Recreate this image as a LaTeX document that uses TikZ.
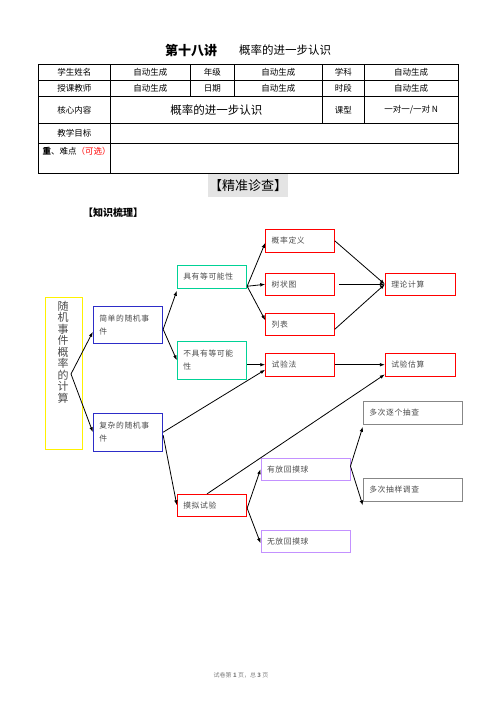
\documentclass[tikz,border=0pt]{standalone}
\usepackage{fontspec}
\setmainfont{Noto Sans CJK SC}
\newfontfamily\boxfont[LetterSpace=8]{Noto Sans CJK SC}
\usetikzlibrary{arrows.meta, positioning}
\definecolor{evtblue}{RGB}{45,45,200}
\definecolor{condgreen}{RGB}{0,210,150}
\definecolor{ballpurple}{RGB}{195,145,255}
\definecolor{checkgray}{RGB}{135,135,135}
\definecolor{txtgray}{RGB}{75,75,75}
\definecolor{headgray}{RGB}{228,228,228}
\tikzset{
  kbox/.style={draw, line width=0.9pt, inner xsep=6pt, inner ysep=0pt, align=left,
    font=\boxfont\fontsize{7.8}{12.6}\selectfont, text=txtgray},
  evt/.style={kbox, draw=evtblue, text width=57.4pt, minimum height=37pt},
  cond/.style={kbox, draw=condgreen, text width=57.4pt},
  meth/.style={kbox, draw=red, text width=56.6pt, minimum height=22.5pt},
  res/.style={kbox, draw=red, text width=58.4pt, minimum height=22.5pt},
  ball/.style={kbox, draw=ballpurple, text width=77pt, minimum height=22pt},
  chk/.style={kbox, draw=checkgray, text width=87pt, minimum height=22.6pt},
  cell/.style={font=\fontsize{8.5}{8.5}\selectfont},
  link/.style={line width=0.8pt, -{Latex[length=5pt,width=3.6pt]}}}

\begin{document}
\begin{tikzpicture}[x=1pt,y=-1pt]
\useasboundingbox (0,0) rectangle (496,702);
% title
\node[font=\bfseries\fontsize{13}{13}\selectfont] (lecture) at (191,50) {第十八讲};
\node[font=\fontsize{11.5}{11.5}\selectfont] (topic) at (285,50) {概率的进一步认识};
% table
\draw[line width=0.9pt] (38.3,64.3) rectangle (458,173.3);
\foreach \y in {80.7,96.7,123.3,143.3}
  \draw[line width=0.9pt] (38.3,\y) -- (458,\y);
\draw[line width=0.9pt] (110.3,64.3) -- (110.3,173.3);
\foreach \x in {190.3,234.3}
  \draw[line width=0.9pt] (\x,64.3) -- (\x,96.7);
\foreach \x in {322.3,364.3}
  \draw[line width=0.9pt] (\x,64.3) -- (\x,123.3);
\foreach \t [count=\i] in {学生姓名,自动生成,年级,自动生成,学科,自动生成}
  \node[cell] (ra\i) at ({\i==1 ? 74.3 : (\i==2 ? 150.3 : (\i==3 ? 212.3 : (\i==4 ? 278.3 : (\i==5 ? 343.3 : 411.2))))},72.5) {\t};
\foreach \t [count=\i] in {授课教师,自动生成,日期,自动生成,时段,自动生成}
  \node[cell] (rb\i) at ({\i==1 ? 74.3 : (\i==2 ? 150.3 : (\i==3 ? 212.3 : (\i==4 ? 278.3 : (\i==5 ? 343.3 : 411.2))))},88.7) {\t};
\node[cell] (core) at (74.3,110) {核心内容};
\node[font=\fontsize{11.5}{11.5}\selectfont] (coretopic) at (216.3,110) {概率的进一步认识};
\node[cell] (type) at (343.3,110) {课型};
\node[cell] (typeval) at (411.2,110) {一对一/一对 N};
\node[cell] (goal) at (74.3,133.3) {教学目标};
\node[cell, anchor=west] (focus) at (39,151) {\textbf{重}、难点\textcolor{red}{（可选）}};
% headings
\node[fill=headgray, minimum width=80.6pt, minimum height=23.3pt, inner sep=0pt,
  font=\fontsize{13}{13}\selectfont] (precise) at (248,185.7) {【精准诊查】};
\node[font=\bfseries\fontsize{10}{10}\selectfont] (review) at (113,213) {【知识梳理】};

% knowledge map
\node[draw=yellow, line width=0.9pt, minimum width=37pt, minimum height=152pt, inner sep=0pt] (calc) at (63.8,373.3) {};
\node[anchor=north, align=center, inner sep=0pt, text=txtgray,
  font=\fontsize{11}{11.5}\selectfont] (calctext) at (63,301) {随\\机\\事\\件\\概\\率\\的\\计\\算};
\coordinate (fork) at (71,374);

\node[evt] (simple) at (128,324.8) {简单的随机事\\件};
\node[evt, minimum height=37.7pt] (complex) at (128,432.2) {复杂的随机事\\件};
\node[cond, minimum height=23pt] (equal) at (212,276.8) {具有等可能性};
\node[cond, minimum height=38pt] (unequal) at (212,360.3) {不具有等可能\\性};

\node[meth] (def) at (300,240.8) {概率定义};
\node[meth] (tree) at (300,284.3) {树状图};
\node[meth] (list) at (300,324.3) {列表};
\node[meth] (trial) at (300,364.7) {试验法};
\node[res] (theory) at (420.5,284.3) {理论计算};
\node[res] (estimate) at (420.5,364.7) {试验估算};

\node[kbox, draw=red, text width=57.4pt, minimum height=21.7pt] (simul) at (212,505.2) {摸拟试验};
\node[ball] (withrep) at (305.5,469.2) {有放回摸球};
\node[ball] (norep) at (305.5,541.2) {无放回摸球};
\node[chk] (each) at (412.8,413) {多次逐个抽查};
\node[chk] (sample) at (412.8,489.7) {多次抽样调查};

\draw[link] (fork) -- ([yshift=-7pt]simple.west);
\draw[link] (fork) -- (complex.west);
\draw[link] ([yshift=-4.5pt]simple.east) -- ([yshift=-2pt]equal.south west);
\draw[link] ([yshift=-4.5pt]simple.east) -- (unequal.west);
\coordinate (eqout) at ([yshift=2.5pt]equal.south east);
\draw[link] (eqout) -- ([yshift=-2pt]def.west);
\draw[link] (eqout) -- (tree.west);
\draw[link] (eqout) -- ([yshift=4pt]list.west);
\draw[link] (def.east) -- (theory.west);
\draw[link] ([xshift=4pt]tree.east) -- (theory.west);
\draw[link] ([yshift=-5pt]list.east) -- (theory.west);
\draw[link] (unequal.east |- trial.west) -- (trial.west);
\draw[link] (trial.east) -- (estimate.west);
\draw[link] (complex.east) -- ([yshift=-5pt]trial.west);
\draw[link] ([yshift=-3pt]complex.east) -- (simul.west);
\draw[link] ([xshift=-5pt]simul.north) -- ([yshift=2pt]estimate.south west);
\draw[link] ([yshift=-3pt]simul.east) -- (withrep.west);
\draw[link] ([yshift=-3pt]simul.east) -- ([yshift=-2pt]norep.west);
\draw[link] ([yshift=3pt]withrep.east) -- ([yshift=-2pt]each.south west);
\draw[link] ([yshift=3pt]withrep.east) -- ([yshift=-4pt]sample.south west);

% footer
\node[font=\fontsize{6}{6}\selectfont, text=gray] (footer) at (241,675) {试卷第 \textbf{1} 页，总 \textbf{3} 页};
\end{tikzpicture}
\end{document}
